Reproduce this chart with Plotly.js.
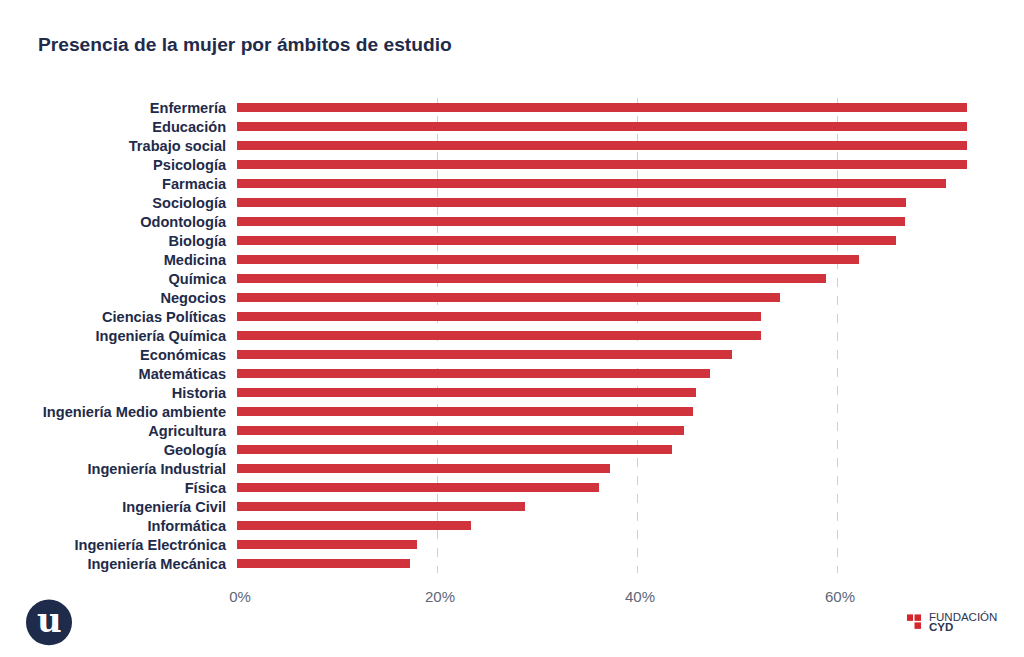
<!DOCTYPE html>
<html>
<head>
<meta charset="utf-8">
<script src="https://cdn.plot.ly/plotly-3.0.1.min.js"></script>
<style>
html,body{margin:0;padding:0;background:#fff;}
#chart{width:1024px;height:657px;}
</style>
</head>
<body>
<div id="chart"></div>
<script>
// Data (percentage of women per field of study)
var categories = [
  "Enfermería","Educación","Trabajo social","Psicología","Farmacia","Sociología",
  "Odontología","Biología","Medicina","Química","Negocios","Ciencias Políticas",
  "Ingeniería Química","Económicas","Matemáticas","Historia","Ingeniería Medio ambiente",
  "Agricultura","Geología","Ingeniería Industrial","Física","Ingeniería Civil",
  "Informática","Ingeniería Electrónica","Ingeniería Mecánica"
];
var womenShare = [
  73.0, 73.0, 73.0, 73.0, 70.9, 66.9,
  66.8, 65.9, 62.2, 58.9, 54.3, 52.4,
  52.4, 49.5, 47.3, 45.9, 45.6,
  44.7, 43.5, 37.3, 36.2, 28.8,
  23.4, 18.0, 17.3
];
var tickValues = [0, 20, 40, 60];
var tickLabels = ["0%", "20%", "40%", "60%"];

var navy = "#1f2b4a";
var barColor = "#d1333c";

var T = 97.5, B = 83.5, L = 237, R = 57;
var PH = 657 - T - B, PW = 1024 - L - R;
function px(x){ return (x - L)/PW; }
function py(y){ return (657 - B - y)/PH; }

var trace = {
  type: "bar",
  orientation: "h",
  x: womenShare,
  y: categories,
  marker: {color: barColor, line: {width: 0}},
  hoverinfo: "x+y"
};

var layout = {
  width: 1024,
  height: 657,
  paper_bgcolor: "#ffffff",
  plot_bgcolor: "#ffffff",
  margin: {l: L, r: R, t: T, b: B, pad: 0},
  bargap: 0.53,
  showlegend: false,
  title: {
    text: "<b>Presencia de la mujer por ámbitos de estudio</b>",
    x: 38/1024, xanchor: "left", xref: "container",
    y: 1 - 44/657, yanchor: "middle", yref: "container",
    font: {family: "Liberation Sans, Arial, sans-serif", size: 19.2, color: navy}
  },
  xaxis: {
    range: [0, 73],
    tickvals: tickValues,
    ticktext: tickLabels,
    showgrid: true,
    gridcolor: "#cfcfcf",
    griddash: "dash",
    gridwidth: 1,
    zeroline: false,
    showline: false,
    ticks: "outside",
    ticklen: 10,
    tickcolor: "rgba(0,0,0,0)",
    ticklabelshift: 3,
    tickfont: {family: "Liberation Sans, Arial, sans-serif", size: 15, color: "#5e6678"},
    fixedrange: true
  },
  yaxis: {
    autorange: "reversed",
    type: "category",
    showgrid: false,
    zeroline: false,
    showline: false,
    ticks: "outside",
    ticklen: 7,
    tickcolor: "rgba(0,0,0,0)",
    tickfont: {family: "Liberation Sans, Arial, sans-serif", size: 14.6, color: navy, weight: "bold"},
    fixedrange: true
  },
  shapes: [
    {type: "circle", xref: "paper", yref: "paper", layer: "above",
     x0: px(26), x1: px(72), y0: py(646), y1: py(600),
     fillcolor: navy, line: {width: 0}},
    {type: "rect", xref: "paper", yref: "paper",
     x0: px(907), x1: px(913), y0: py(621.5), y1: py(615),
     fillcolor: "#d7262b", line: {width: 0}},
    {type: "rect", xref: "paper", yref: "paper",
     x0: px(914.5), x1: px(921), y0: py(621.5), y1: py(615),
     fillcolor: "#d7262b", line: {width: 0}},
    {type: "rect", xref: "paper", yref: "paper",
     x0: px(914.5), x1: px(921), y0: py(629.5), y1: py(623),
     fillcolor: "#d7262b", line: {width: 0}}
  ],
  annotations: [
    {text: "u", xref: "paper", yref: "paper", showarrow: false,
     x: px(49), y: py(621), xanchor: "center", yanchor: "middle",
     font: {family: "DejaVu Serif, Liberation Serif, serif", size: 34, color: "#ffffff", weight: "bold"}},
    {text: "FUNDACIÓN", xref: "paper", yref: "paper", showarrow: false,
     x: px(927), y: py(617.5), xanchor: "left", yanchor: "middle",
     font: {family: "Liberation Sans, Arial, sans-serif", size: 11.5, color: "#2e3550"}},
    {text: "<b>CYD</b>", xref: "paper", yref: "paper", showarrow: false,
     x: px(927), y: py(628), xanchor: "left", yanchor: "middle",
     font: {family: "Liberation Sans, Arial, sans-serif", size: 11.5, color: "#2e3550"}}
  ]
};

Plotly.newPlot("chart", [trace], layout, {displayModeBar: false, staticPlot: true});
</script>
</body>
</html>
